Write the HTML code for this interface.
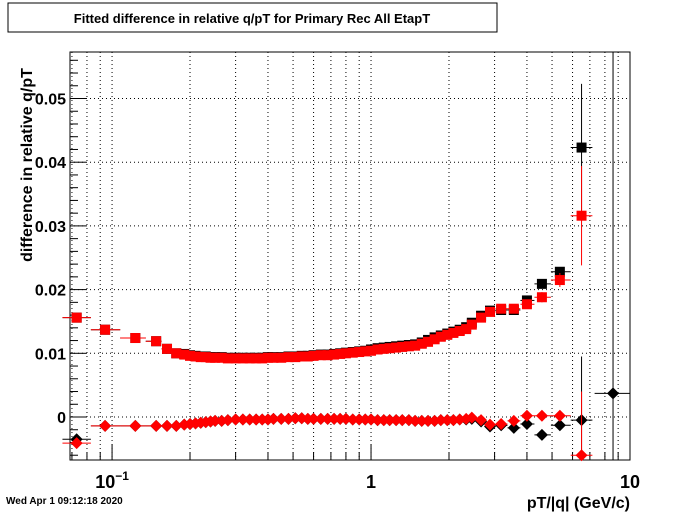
<!DOCTYPE html>
<html><head><meta charset="utf-8"><style>
body{margin:0;background:#fff;}
svg{display:block;font-family:"Liberation Sans",sans-serif;}
</style></head><body>
<svg id="c" width="700" height="512">
<rect x="8" y="3" width="489" height="29" fill="#fff" stroke="#000"/>
<text x="252" y="23" font-size="13" font-weight="bold" text-anchor="middle">Fitted difference in relative q/pT for Primary Rec All EtapT</text>
<text transform="translate(32,165) rotate(-90)" font-size="16" font-weight="bold" text-anchor="middle">difference in relative q/pT</text>
<text x="630" y="508" font-size="16" font-weight="bold" text-anchor="end">pT/|q| (GeV/c)</text>
<text x="6" y="504" font-size="10" font-weight="bold">Wed Apr  1 09:12:18 2020</text>
<g id="grid"></g><g id="axes"></g><g id="marks"></g>
</svg>
<script>
const xs=[0.073,0.094,0.123,0.148,0.163,0.177,0.19,0.20,0.21,0.22,0.23,0.24,0.25,0.265,0.28,0.30,0.32,0.34,0.36,0.38,0.40,0.42,0.45,0.48,0.51,0.54,0.57,0.60,0.64,0.68,0.72,0.76,0.80,0.85,0.90,0.95,1.0,1.06,1.12,1.18,1.25,1.32,1.40,1.48,1.57,1.66,1.76,1.86,1.97,2.08,2.2,2.33,2.45,2.66,2.88,3.18,3.56,4.0,4.57,5.36,6.5];
const redSq=[0.0156,0.0137,0.0124,0.0119,0.0107,0.0100,0.0098,0.0096,0.0095,0.0094,0.0094,0.0093,0.0093,0.0093,0.0092,0.0092,0.0092,0.0092,0.0092,0.0092,0.0093,0.0093,0.0093,0.0094,0.0094,0.0095,0.0095,0.0096,0.0097,0.0097,0.0098,0.0099,0.0100,0.0101,0.0102,0.0103,0.0104,0.0106,0.0107,0.0108,0.0109,0.0110,0.0111,0.0112,0.0115,0.0118,0.0122,0.0126,0.0129,0.0132,0.0135,0.0138,0.0145,0.0156,0.0165,0.0170,0.0170,0.0177,0.0188,0.0215,0.0316];
const blackSq=[0.0156,0.0137,0.0124,0.0119,0.0107,0.0100,0.0099,0.0097,0.0096,0.0095,0.0095,0.0094,0.0094,0.0094,0.0093,0.0093,0.0093,0.0093,0.0093,0.0093,0.0094,0.0094,0.0094,0.0095,0.0095,0.0096,0.0096,0.0097,0.0098,0.0098,0.0099,0.0100,0.0101,0.0102,0.0103,0.0104,0.0106,0.0108,0.0109,0.0110,0.0111,0.0112,0.0113,0.0114,0.0117,0.0121,0.0125,0.0128,0.0131,0.0134,0.0137,0.0141,0.0148,0.0159,0.0167,0.0168,0.0168,0.0183,0.0209,0.0228,0.0423];
const redDi=[-0.0041,-0.0014,-0.0014,-0.0014,-0.0014,-0.0014,-0.0012,-0.0011,-0.0010,-0.0009,-0.0008,-0.0007,-0.0006,-0.0006,-0.0005,-0.0004,-0.0004,-0.0004,-0.0004,-0.0004,-0.0004,-0.0003,-0.0003,-0.0003,-0.0002,-0.0002,-0.0003,-0.0003,-0.0003,-0.0003,-0.0003,-0.0003,-0.0003,-0.0004,-0.0004,-0.0004,-0.0004,-0.0005,-0.0005,-0.0005,-0.0005,-0.0005,-0.0005,-0.0006,-0.0006,-0.0006,-0.0006,-0.0005,-0.0005,-0.0005,-0.0004,-0.0003,-0.0001,-0.0005,-0.0012,-0.0011,-0.0006,0.0002,0.0002,0.0002,-0.0060];
const blackDi=[-0.0035,-0.0014,-0.0014,-0.0014,-0.0014,-0.0014,-0.0012,-0.0011,-0.0010,-0.0009,-0.0008,-0.0007,-0.0006,-0.0006,-0.0005,-0.0004,-0.0004,-0.0004,-0.0004,-0.0004,-0.0004,-0.0003,-0.0003,-0.0003,-0.0002,-0.0002,-0.0003,-0.0003,-0.0003,-0.0003,-0.0003,-0.0003,-0.0003,-0.0004,-0.0004,-0.0004,-0.0004,-0.0005,-0.0005,-0.0005,-0.0005,-0.0005,-0.0005,-0.0006,-0.0006,-0.0006,-0.0006,-0.0005,-0.0005,-0.0005,-0.0004,-0.0004,-0.0003,-0.0007,-0.0015,-0.0013,-0.0017,-0.0011,-0.0028,-0.0013,-0.0005];
const redSqErr=[0,0,0,0,0,0,0,0,0,0,0,0,0,0,0,0,0,0,0,0,0,0,0,0,0,0,0,0,0,0,0,0,0,0,0,0,0,0,0,0,0,0,0,0,0,0,0,0,0,0,0,0,0,0,0,0,0,0,0.0008,0.0011,0.0078];
const blackSqErr=[0,0,0,0,0,0,0,0,0,0,0,0,0,0,0,0,0,0,0,0,0,0,0,0,0,0,0,0,0,0,0,0,0,0,0,0,0,0,0,0,0,0,0,0,0,0,0,0,0,0,0,0,0,0,0,0,0,0,0.0006,0.0006,0.0100];
const diErr=[0,0,0,0,0,0,0,0,0,0,0,0,0,0,0,0,0,0,0,0,0,0,0,0,0,0,0,0,0,0,0,0,0,0,0,0,0,0,0,0,0,0,0,0,0,0,0,0,0,0,0,0,0,0,0,0,0,0,0.0004,0.0006,0.0100];
const extraX=[8.6], extraY=[0.0037];
const xTicks=["10","1","10"];
const yTicks=[0,0.01,0.02,0.03,0.04,0.05];
const yTickLabels=["0","0.01","0.02","0.03","0.04","0.05"];

const L=70,R=630,T=52,B=460;
const lx0=Math.log10(0.0688),lx1=1;
const X=v=>L+(Math.log10(v)-lx0)/(lx1-lx0)*(R-L);
const y0=-0.00675,y1=0.0573;
const Y=v=>B-(v-y0)/(y1-y0)*(B-T);
const NS="http://www.w3.org/2000/svg";
function mk(p,t,a){const e=document.createElementNS(NS,t);for(const k in a)e.setAttribute(k,a[k]);p.appendChild(e);return e;}
const grid=document.getElementById('grid'),axes=document.getElementById('axes'),marks=document.getElementById('marks');
// x grid + ticks
for(let d=-2;d<=0;d++)for(let m=1;m<=9;m++){const v=m*Math.pow(10,d);if(v<0.0688||v>10.001)continue;const px=X(v);
 const g=mk(grid,'line',{x1:px,x2:px,y1:T,y2:B,stroke:'#000','stroke-dasharray':'1,3','stroke-width':1});
 
 const t=mk(axes,'line',{x1:px,x2:px,y1:B,y2:B-(m==1?16:8),stroke:'#000'});
 }
// y grid+ticks
yTicks.forEach((v,i)=>{const py=Y(v);
 const g=mk(grid,'line',{x1:L,x2:R,y1:py,y2:py,stroke:'#000','stroke-dasharray':'1,3'});
 
 const tl=mk(axes,'text',{x:L-4,y:py+6,'font-size':16,'font-weight':'bold','text-anchor':'end'});tl.textContent=yTickLabels[i];
 });
for(let k=-3;k<=28;k++){const v=k*0.002;if(v<y0||v>y1)continue;const py=Y(v);const maj=k%5==0;
 const t=mk(axes,'line',{x1:L,x2:L+(maj?16:8),y1:py,y2:py,stroke:'#000'});
 }
// x labels
[[0.1,'10','−1'],[1,'1',''],[10,'10','']].forEach(a=>{const t=mk(axes,'text',{x:X(a[0]),y:488,'font-size':18,'font-weight':'bold','text-anchor':'middle'});t.textContent=a[1];
 if(a[2]){const s=mk(t,'tspan',{dy:-8,'font-size':12});s.textContent=a[2];}
 });
const fr=mk(axes,'rect',{x:L,y:T,width:R-L,height:B-T,fill:'none',stroke:'#000'});

function half(i){const a=i>0?xs[i-1]:xs[i]*xs[i]/xs[i+1];const b=i<xs.length-1?xs[i+1]:xs[i]*xs[i]/xs[i-1];return [Math.sqrt(a*xs[i]),Math.sqrt(xs[i]*b)];}
function series(vals,errs,color,shape,name){vals.forEach((v,i)=>{const px=X(xs[i]),py=Y(v);const h=half(i);
 const g=mk(marks,'g',{});
 mk(g,'line',{x1:X(h[0]),x2:X(h[1]),y1:py,y2:py,stroke:color});
 if(errs[i]>0){mk(g,'line',{x1:px,x2:px,y1:Y(v+errs[i]),y2:Math.min(B,Y(v-errs[i])),stroke:color});}
 if(shape=='sq')mk(g,'rect',{x:px-5,y:py-5,width:10,height:10,fill:color});
 else mk(g,'polygon',{points:`${px},${py-6} ${px+6},${py} ${px},${py+6} ${px-6},${py}`,fill:color});});}
series(blackSq,blackSqErr,'#000','sq','black-square-point');
series(redSq,redSqErr,'#f00','sq','red-square-point');
series(blackDi,diErr,'#000','di','black-diamond-point');
series(redDi,diErr,'#f00','di','red-diamond-point');
extraX.forEach((xv,i)=>{const px=X(xv),py=Y(extraY[i]);const g=mk(marks,'g',{});
 
 mk(g,'line',{x1:px,x2:px,y1:T,y2:B,stroke:'#000'});
 mk(g,'line',{x1:X(7.3),x2:R,y1:py,y2:py,stroke:'#000'});
 mk(g,'polygon',{points:`${px},${py-6} ${px+6},${py} ${px},${py+6} ${px-6},${py}`,fill:'#000'});});
</script>
</body></html>
